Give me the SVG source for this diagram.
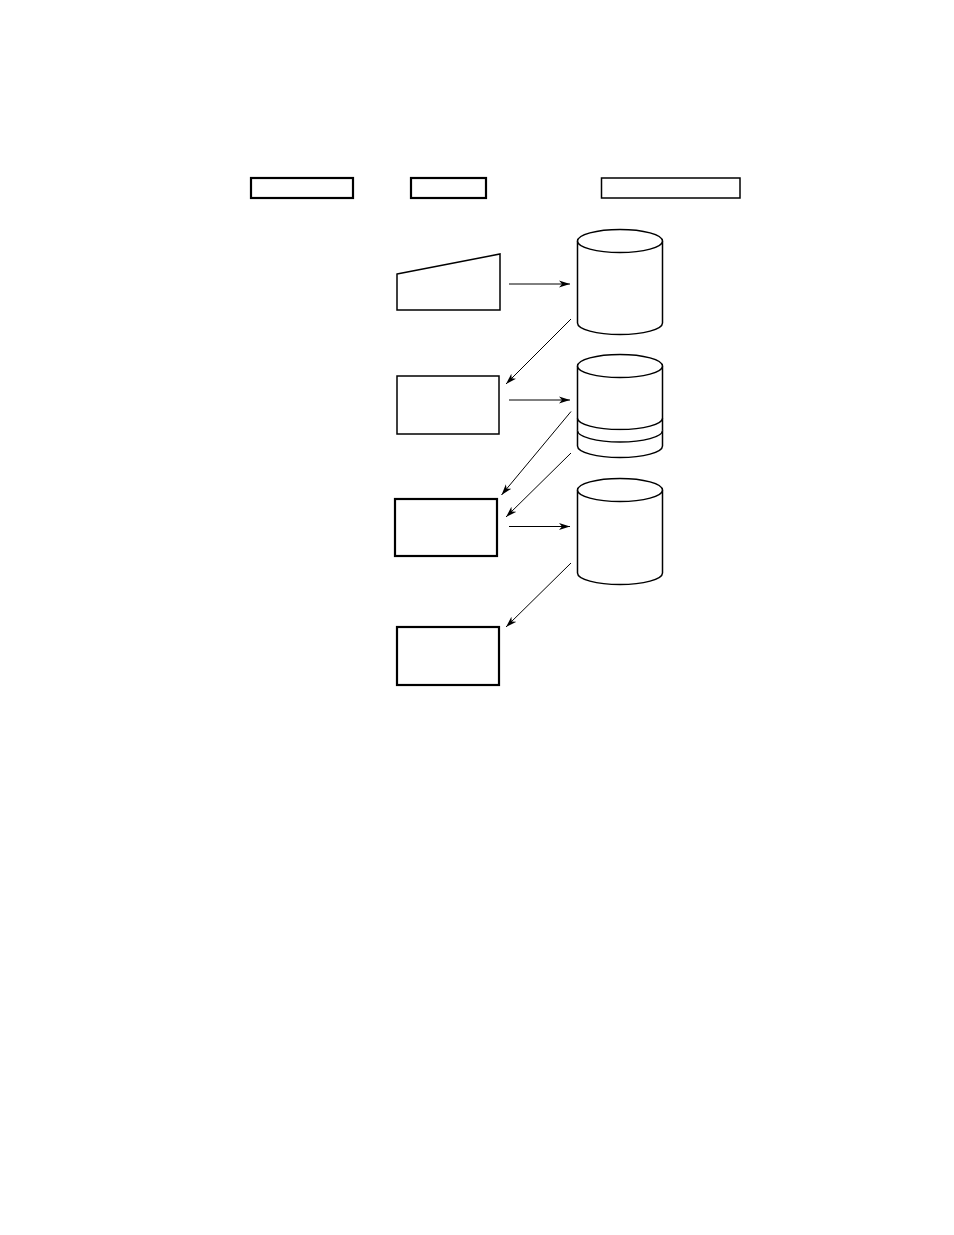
<svg xmlns="http://www.w3.org/2000/svg" width="954" height="1235" viewBox="0 0 954 1235">
<style>
.s{fill:#fff;stroke:#000;stroke-width:1.5}
.t{fill:#fff;stroke:#000;stroke-width:2.2}
.c{fill:none;stroke:#000;stroke-width:1}
</style>
<defs>
<marker id="ah" markerWidth="12" markerHeight="8" refX="11" refY="4" orient="auto" markerUnits="userSpaceOnUse">
<path d="M0,0.5 L11,4 L0,7.5 L3,4 Z" fill="#000"/>
</marker>
</defs>
<rect width="954" height="1235" fill="#fff"/>
<g id="h1"><rect class="t" x="251" y="178" width="102" height="20"/></g>
<g id="h2"><rect class="t" x="411" y="178" width="75" height="20"/></g>
<g id="h3"><rect class="s" x="601.5" y="178" width="138.5" height="20"/></g>
<g id="input"><path class="s" d="M397,274 L500,254 L500,310 L397,310 Z"/></g>
<g id="db1">
<path class="s" d="M577.5,241 L577.5,323 A42.5,11.5 0 0 0 662.5,323 L662.5,241"/>
<ellipse class="s" cx="620" cy="241" rx="42.5" ry="11.5"/>
</g>
<g id="p1"><rect class="s" x="397" y="376" width="102" height="58"/></g>
<g id="db2">
<path class="s" d="M577.5,366 L577.5,446 A42.5,11.5 0 0 0 662.5,446 L662.5,366"/>
<ellipse class="s" cx="620" cy="366" rx="42.5" ry="11.5"/>
<path class="s" fill="none" d="M577.5,418 A42.5,11.5 0 0 0 662.5,418"/>
<path class="s" fill="none" d="M577.5,430.5 A42.5,11.5 0 0 0 662.5,430.5"/>
</g>
<g id="p2"><rect class="t" x="395" y="499" width="102" height="57"/></g>
<g id="db3">
<path class="s" d="M577.5,490 L577.5,573 A42.5,11.5 0 0 0 662.5,573 L662.5,490"/>
<ellipse class="s" cx="620" cy="490" rx="42.5" ry="11.5"/>
</g>
<g id="p3"><rect class="t" x="397" y="627" width="102" height="58"/></g>
<g id="connectors">
<line class="c" x1="509" y1="284" x2="570" y2="284" marker-end="url(#ah)"/>
<line class="c" x1="571" y1="319" x2="506" y2="384" marker-end="url(#ah)"/>
<line class="c" x1="509" y1="400" x2="570" y2="400" marker-end="url(#ah)"/>
<line class="c" x1="571" y1="411.5" x2="501.5" y2="495" marker-end="url(#ah)"/>
<line class="c" x1="571" y1="453" x2="506" y2="517" marker-end="url(#ah)"/>
<line class="c" x1="509" y1="526.5" x2="570" y2="526.5" marker-end="url(#ah)"/>
<line class="c" x1="571" y1="563" x2="506" y2="627" marker-end="url(#ah)"/>
</g>
</svg>
